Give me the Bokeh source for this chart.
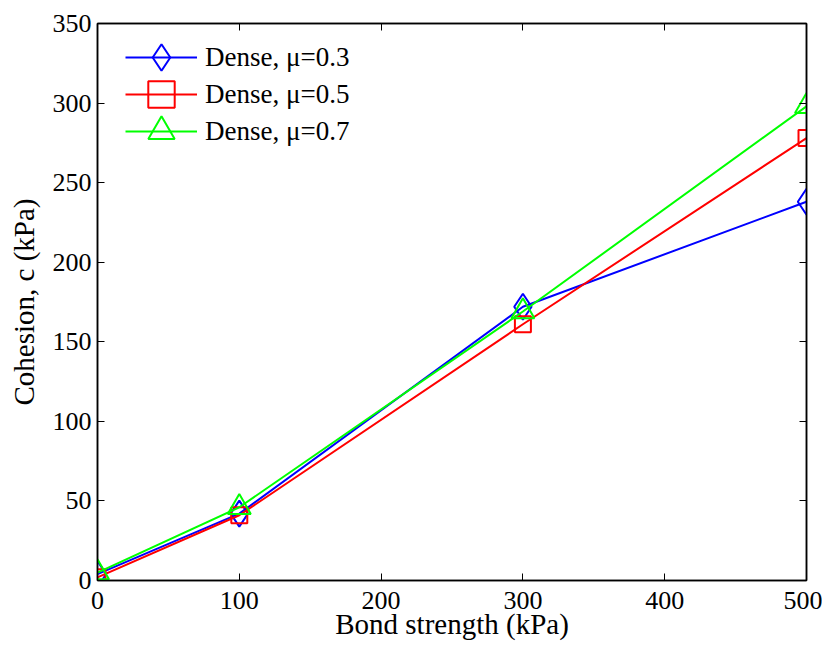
from bokeh.plotting import figure
from bokeh.models import LinearAxis, FixedTicker, Range1d, Legend, LegendItem
from bokeh.embed import file_html
from bokeh.resources import INLINE

bond = [0, 100, 300, 500]
mu03 = [4, 42, 172, 238]
mu05 = [2, 41, 161, 278]
mu07 = [5, 46, 169, 298]
labels = ["Dense, \u03bc=0.3", "Dense, \u03bc=0.5", "Dense, \u03bc=0.7"]
xticks = [0, 100, 200, 300, 400, 500]
yticks = [0, 50, 100, 150, 200, 250, 300, 350]
x_title = "Bond strength (kPa)"
y_title = "Cohesion, c (kPa)"

FONT = "Liberation Serif"

p = figure(width=822, height=650, output_backend="svg", toolbar_location=None,
           x_range=Range1d(0, 500), y_range=Range1d(0, 350),
           min_border_left=97, min_border_right=16, min_border_top=23, min_border_bottom=70,
           x_axis_label=x_title, y_axis_label=y_title)
p.grid.visible = False
p.outline_line_color = "black"
p.outline_line_width = 1.5
p.background_fill_color = "white"

for ax, ticks in ((p.xaxis[0], xticks), (p.yaxis[0], yticks)):
    ax.ticker = FixedTicker(ticks=ticks)
    ax.major_tick_in = 7
    ax.major_tick_out = 0
    ax.minor_tick_line_color = None
    ax.axis_line_width = 1.5
    ax.axis_line_color = "black"
    ax.major_tick_line_color = "black"
    ax.major_label_text_font = FONT
    ax.major_label_text_font_size = "26px"
    ax.major_label_text_color = "black"
    ax.axis_label_text_font = FONT
    ax.axis_label_text_font_size = "29px"
    ax.axis_label_text_font_style = "normal"
    ax.axis_label_text_color = "black"
p.xaxis[0].major_label_standoff = 11
p.xaxis[0].axis_label_standoff = -4
p.yaxis[0].major_label_standoff = 6
p.yaxis[0].axis_label_standoff = 10

for loc, ticks in (("above", xticks), ("right", yticks)):
    ax = LinearAxis(ticker=FixedTicker(ticks=ticks))
    ax.major_tick_in = 7
    ax.major_tick_out = 0
    ax.minor_tick_line_color = None
    ax.major_label_text_font_size = "0px"
    ax.major_label_text_color = None
    ax.major_label_standoff = 0
    ax.axis_line_color = "black"
    ax.axis_line_width = 1.5
    p.add_layout(ax, loc)

series = [(mu03, "#0000ff", "diamond", 26), (mu05, "#ff0000", "square", 16), (mu07, "#00ff00", "triangle", 23)]
# legend entries: one small legend per series, stacked at a 37px pitch
legend_y = [490, 453, 416]
for (ys, col, mk, sz), lab, ly in zip(series, labels, legend_y):
    l = p.line(bond, ys, line_color=col, line_width=2)
    s = p.scatter(bond, ys, marker=mk, size=sz, line_color=col, line_width=2, fill_alpha=0)
    leg = Legend(items=[LegendItem(label=lab, renderers=[l, s])], location=(28, ly),
                 border_line_color=None, background_fill_alpha=0,
                 label_text_font=FONT, label_text_font_size="27px", label_text_color="black",
                 glyph_width=72, glyph_height=66, label_standoff=8,
                 margin=0, padding=0)
    p.add_layout(leg, "center")

open("out.html", "w").write(file_html(p, INLINE))
